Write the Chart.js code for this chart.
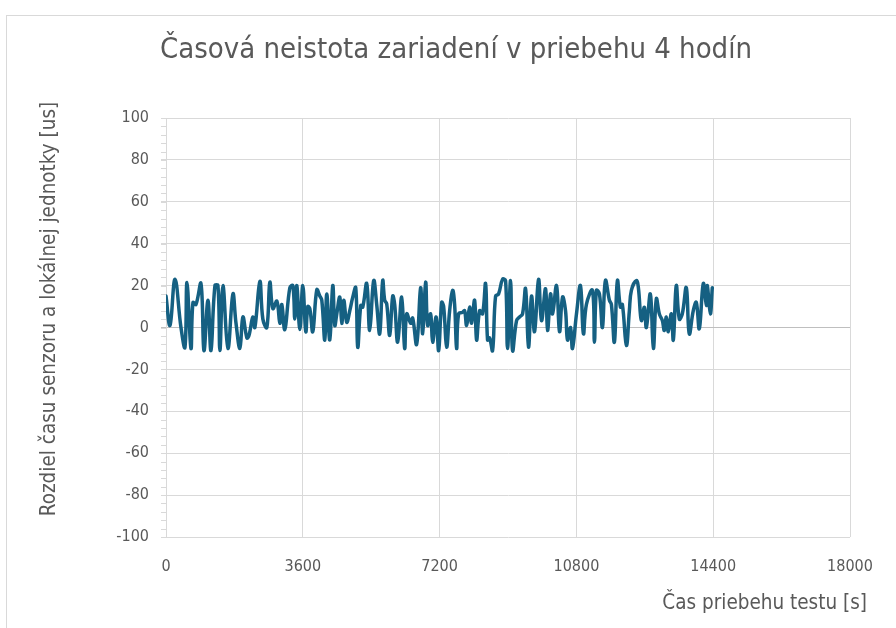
<!DOCTYPE html>
<html>
<head>
<meta charset="utf-8">
<script src="https://cdn.jsdelivr.net/npm/chart.js@4.4.1/dist/chart.umd.min.js"></script>
<style>
  html, body { margin: 0; padding: 0; background: #fff; }
  #wrap { position: relative; width: 896px; height: 628px; overflow: hidden; }
  #frame { position: absolute; left: 6px; top: 15px; width: 960px; height: 700px; border: 1px solid #d9d9d9; box-sizing: border-box; }
  canvas { position: absolute; left: 0; top: 0; }
</style>
</head>
<body>
<div id="wrap">
  <div id="frame"></div>
  <canvas id="chart" width="896" height="628"></canvas>
</div>
<script>
const FONT = "'Liberation Sans Narrow', 'Arial Narrow', 'DejaVu Sans Condensed', sans-serif";
const TEXT = '#595959';
const GRID = '#d9d9d9';
const ZERO = '#bfbfbf';
const LINE = '#156082';

const chartTitle = 'Časová neistota zariadení v priebehu 4 hodín';
const xTitle = 'Čas priebehu testu [s]';
const yTitle = 'Rozdiel času senzoru a lokálnej jednotky [us]';

const xTicks = [0, 3600, 7200, 10800, 14400, 18000];
const yTicks = [-100, -80, -60, -40, -20, 0, 20, 40, 60, 80, 100];
const yMinorStep = 4;

// time of test [s]
const times = [
  0, 105, 237, 394, 499, 552, 657, 710, 788, 920,
  999, 1104, 1183, 1288, 1367, 1419, 1498, 1629, 1761, 1840,
  1945, 2024, 2129, 2181, 2286, 2339, 2470, 2549, 2654, 2733,
  2812, 2917, 2996, 3048, 3127, 3259, 3338, 3390, 3443, 3522,
  3600, 3679, 3732, 3784, 3863, 3968, 4047, 4100, 4179, 4231,
  4310, 4389, 4442, 4494, 4573, 4626, 4678, 4757, 4836, 4915,
  4993, 5046, 5125, 5177, 5282, 5361, 5466, 5545, 5624, 5703,
  5755, 5808, 5887, 5966, 6018, 6097, 6202, 6281, 6334, 6439,
  6491, 6596, 6701, 6754, 6833, 6885, 6964, 7017, 7110, 7175,
  7254, 7306, 7385, 7464, 7543, 7595, 7648, 7700, 7805, 7858,
  7911, 7990, 8042, 8121, 8174, 8252, 8331, 8410, 8462, 8515,
  8594, 8673, 8752, 8857, 8936, 8988, 9067, 9120, 9225, 9304,
  9383, 9462, 9540, 9619, 9698, 9804, 9882, 9988, 10041, 10120,
  10172, 10277, 10356, 10435, 10514, 10566, 10645, 10697, 10802,
  10906, 10985, 11064, 11222, 11274, 11327, 11406, 11485, 11564, 11669,
  11721, 11800, 11879, 11958, 12010, 12115, 12194, 12247, 12378, 12431,
  12510, 12589, 12641, 12746, 12825, 12904, 12983, 13062, 13114, 13167,
  13219, 13298, 13351, 13429, 13508, 13587, 13692, 13771, 13876, 13955,
  14034, 14140, 14219, 14245, 14324, 14376
];

// sensor vs local unit time difference [us]
const diffs = [
  15, 1, 23, 0, -9.5, 21.5, -10, 12, 11, 21,
  -11, 13, -11, 20, 20, -11, 20, -10, 16, 2.4,
  -10, 5, -5, -4, 5, 0, 22, 4, 0, 21.6,
  9, 12.6, 2, 11, -1, 19, 20, 4, 20, -1,
  20, -2, 10, 9, -2, 18, 15, 13, -6, 16,
  -6, 20, 1, 6.5, 14.5, 2, 13, 2.5, 8, 14.5,
  19, -9.4, 10.5, 9.7, 21, -1.4, 22.4, 11, -3, 22.4,
  13, 11.3, -3.8, 15, 11, -7, 14.5, -10, 6.5, 2,
  4.5, -8, 19, -3, 21.6, 1, 6.5, -7, 5, -11,
  12, 10, -9.4, 8, 17.7, 11, -10, 6.5, 7.3, 8,
  1, 9.7, 2, 13, -6, 8, 6.5, 21, -6, -5,
  -11, 15, 16, 23, 22.4, -10, 22.4, -11, 3.3, 5,
  6.5, 18.5, -9.4, 15, -2, 23, 3.3, 18.5, -1.4, 16,
  6.5, 20, -2, 14.5, 8, -6, 0, -10, 6.5,
  20, -3, 11, 17.7, -7, 17.7, 16, 0, 22.4, 13,
  11, -7, 22.4, 9.7, 11, -8.6, 8, 17.7, 22.4, 19,
  3.3, 9.7, 0, 16, -10, 13.7, 6.5, 3.3, -1.4, 5,
  -2, 6.5, -6, 20, 4, 6.5, 19, -3, 8, 12,
  -0.6, 21, 10.5, 20, 6.5, 19
];

// minor tick marks on the value axis, chart title and axis titles placed like the original
const extras = {
  id: 'extras',
  beforeDatasetsDraw(chart) {
    const { ctx, chartArea, scales } = chart;
    ctx.save();
    ctx.strokeStyle = GRID;
    ctx.lineWidth = 1;
    ctx.beginPath();
    for (let v = yTicks[0]; v <= yTicks[yTicks.length - 1]; v += yMinorStep) {
      const py = Math.round(scales.y.getPixelForValue(v)) + 0.5;
      ctx.moveTo(chartArea.left - 5, py);
      ctx.lineTo(chartArea.left, py);
    }
    ctx.stroke();
    ctx.restore();
  },
  afterDraw(chart) {
    const { ctx, chartArea } = chart;
    ctx.save();
    ctx.fillStyle = TEXT;
    ctx.textBaseline = 'middle';
    ctx.textAlign = 'center';
    ctx.font = '29px ' + FONT;
    ctx.fillText(chartTitle, 456, 50);
    ctx.font = '20.5px ' + FONT;
    ctx.textAlign = 'right';
    ctx.fillText(xTitle, chartArea.right + 17, 604);
    ctx.translate(50, 309);
    ctx.rotate(-Math.PI / 2);
    ctx.textAlign = 'center';
    ctx.fillText(yTitle, 0, 0);
    ctx.restore();
  }
};

new Chart(document.getElementById('chart'), {
  type: 'scatter',
  data: {
    datasets: [{
      label: 'Rozdiel času',
      data: times.map((t, i) => ({ x: t, y: diffs[i] })),
      showLine: true,
      borderColor: LINE,
      backgroundColor: LINE,
      borderWidth: 3.5,
      pointRadius: 0,
      tension: 0.4,
      borderCapStyle: 'round',
      borderJoinStyle: 'round',
    }],
  },
  plugins: [extras],
  options: {
    responsive: false,
    animation: false,
    devicePixelRatio: 1,
    layout: { padding: { left: 0, right: 46, top: 118, bottom: 0 } },
    plugins: {
      legend: { display: false },
      tooltip: { enabled: false },
      title: { display: false },
    },
    scales: {
      x: {
        type: 'linear',
        min: xTicks[0],
        max: xTicks[xTicks.length - 1],
        afterBuildTicks: (s) => { s.ticks = xTicks.map(v => ({ value: v })); },
        afterFit: (s) => { s.height = 91; },
        ticks: {
          color: TEXT, font: { family: FONT, size: 16 }, padding: 20, maxRotation: 0,
          callback: (v) => String(v),
        },
        grid: { color: GRID, drawTicks: false },
        border: { display: false },
      },
      y: {
        type: 'linear',
        min: yTicks[0],
        max: yTicks[yTicks.length - 1],
        afterBuildTicks: (s) => { s.ticks = yTicks.map(v => ({ value: v })); },
        afterFit: (s) => { s.width = 166; },
        ticks: {
          color: TEXT, font: { family: FONT, size: 16 }, padding: 12,
          callback: (v) => String(v),
        },
        grid: {
          color: (c) => (c.tick && c.tick.value === 0 ? ZERO : GRID),
          tickLength: 5,
        },
        border: { color: GRID },
      },
    },
  },
});
</script>
</body>
</html>
